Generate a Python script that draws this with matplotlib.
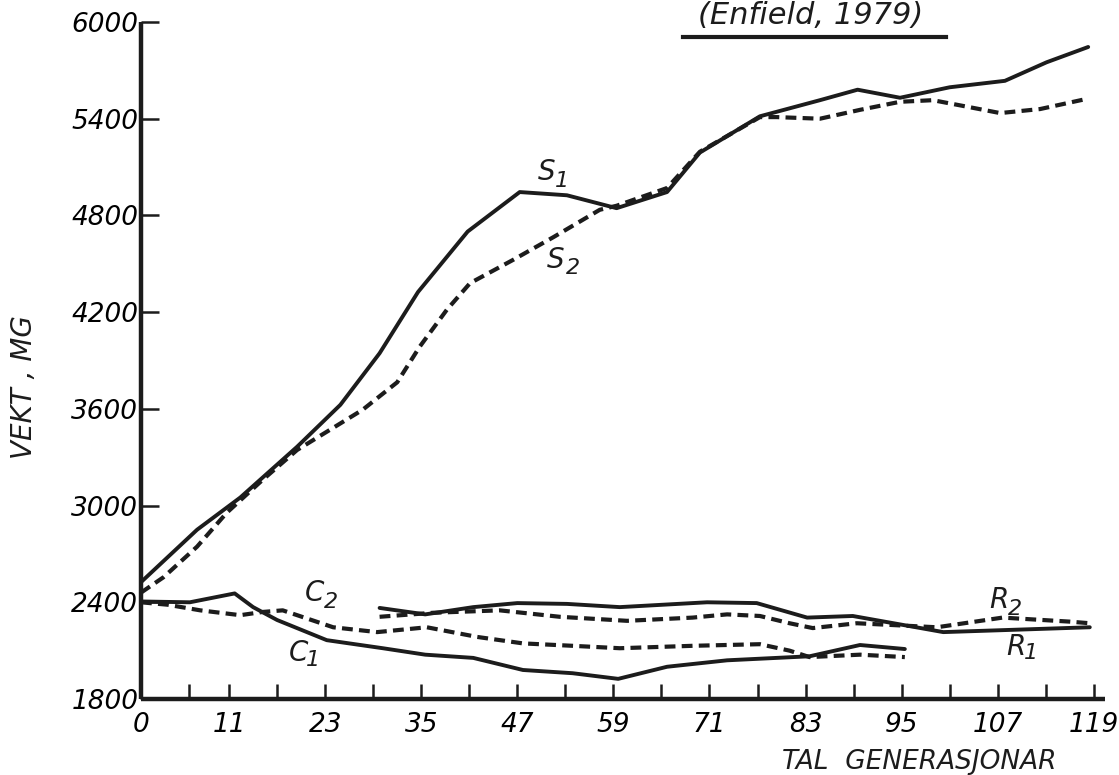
import matplotlib
matplotlib.use("Agg")
import matplotlib.pyplot as plt
from matplotlib.lines import Line2D

# generation / weight (mg)
s1_gen = [0, 7, 12.4, 19.5, 24.9, 29.8, 34.6, 40.8, 47.3, 53.2, 59.4, 65.7, 69.8,
          77.3, 84.8, 89.5, 94.8, 101.0, 107.9, 113.1, 118.3]
s1_mg = [2525, 2850, 3050, 3365, 3625, 3945, 4325, 4700, 4945, 4925, 4845, 4945, 5190,
         5415, 5515, 5580, 5530, 5595, 5635, 5750, 5845]

s2_gen = [0, 2.8, 7.0, 10.7, 15.2, 19.5, 23.6, 27.7, 32.0, 34.8, 38.2, 41.1, 46.5,
          51.5, 57.3, 59.4, 65.7, 69.8, 77.3, 79.4, 84.8, 89.8, 94.8, 98.9, 102.6,
          107.3, 112.3, 118.3]
s2_mg = [2460, 2555, 2745, 2955, 3160, 3345, 3470, 3595, 3765, 3985, 4215, 4380, 4525,
         4665, 4835, 4860, 4970, 5195, 5410, 5410, 5400, 5455, 5505, 5515, 5480,
         5435, 5460, 5525]

c1_gen = [0, 6.1, 11.7, 14.0, 17.0, 23.2, 30.2, 35.5, 41.5, 47.7, 53.9, 59.6, 65.7,
          73.2, 83.5, 89.8, 95.4]
c1_mg = [2405, 2400, 2455, 2370, 2290, 2165, 2115, 2075, 2055, 1980, 1960, 1925, 2000,
         2040, 2065, 2135, 2110]

c2_gen = [0, 3.3, 7.4, 12.4, 15.2, 17.7, 24.0, 29.5, 35.7, 42.0, 47.7, 53.9, 59.8,
          68.9, 77.3, 81.0, 83.5, 89.8, 95.4]
c2_mg = [2400, 2385, 2350, 2320, 2340, 2350, 2245, 2215, 2245, 2185, 2145, 2130, 2115,
         2130, 2140, 2100, 2060, 2075, 2060]

r1_gen = [29.8, 35.5, 41.5, 47.0, 53.2, 59.8, 70.7, 76.9, 83.2, 88.9, 100.2, 118.5]
r1_mg = [2365, 2325, 2370, 2395, 2390, 2370, 2400, 2395, 2305, 2315, 2215, 2245]

r2_gen = [29.8, 36.5, 44.8, 52.3, 60.7, 68.9, 73.2, 77.3, 81.0, 83.9, 89.4, 99.4,
          107.6, 116.0, 118.5]
r2_mg = [2310, 2335, 2350, 2310, 2285, 2305, 2325, 2315, 2270, 2240, 2270, 2245,
         2305, 2280, 2270]

x_major = [0, 11, 23, 35, 47, 59, 71, 83, 95, 107, 119]
x_minor = [6, 17, 29, 41, 53, 65, 77, 89, 101, 113]
y_ticks = [1800, 2400, 3000, 3600, 4200, 4800, 5400, 6000]

ink = '#1c1c1c'
solid = dict(color=ink, lw=2.8, solid_joinstyle='round', solid_capstyle='round')
dashed = dict(color=ink, lw=3.0, linestyle=(0, (2.6, 1.5)))

plt.rcParams['font.family'] = 'DejaVu Sans'
plt.rcParams['font.style'] = 'oblique'

fig = plt.figure(figsize=(11.19, 7.75), dpi=100)
ax = fig.add_axes([141/1119, 1-699/775, 964/1119, 677/775])

ax.plot(s1_gen, s1_mg, **solid)
ax.plot(s2_gen, s2_mg, **dashed)
ax.plot(c1_gen, c1_mg, **solid)
ax.plot(c2_gen, c2_mg, **dashed)
ax.plot(r1_gen, r1_mg, **solid)
ax.plot(r2_gen, r2_mg, **dashed)

ax.set_xlim(0, 120.4)
ax.set_ylim(1800, 6000)
for side in ['top', 'right']:
    ax.spines[side].set_visible(False)
for side in ['left', 'bottom']:
    ax.spines[side].set_linewidth(3.2)
    ax.spines[side].set_color(ink)
    ax.spines[side].set_capstyle('butt')

ax.set_xticks(x_major)
ax.set_xticks(x_minor, minor=True)
ax.set_yticks(y_ticks)
ax.tick_params(axis='x', which='both', direction='in', length=11, width=1.8,
               color=ink, pad=9, labelsize=19)
ax.tick_params(axis='y', direction='in', length=13, width=1.8, color=ink,
               pad=2, labelsize=19)
for lab in ax.get_xticklabels() + ax.get_yticklabels():
    lab.set_fontstyle('oblique')

# curve labels: letter + subscript
def curve_label(x, y, letter, sub, dx, dy):
    ax.text(x, y, letter, fontsize=20, ha='center', va='center', color=ink)
    ax.annotate(sub, (x, y), xytext=(dx, dy), textcoords='offset points',
                fontsize=16, ha='center', va='center', color=ink)

curve_label(50.7, 5070, 'S', '1', 11, -6.5)
curve_label(51.8, 4525, 'S', '2', 12.5, -6)
curve_label(21.7, 2458, 'C', '2', 11.5, -6.5)
curve_label(19.7, 2085, 'C', '1', 10.5, -5)
curve_label(107.1, 2414, 'R', '2', 12, -6.5)
curve_label(109.3, 2123, 'R', '1', 11, -4.5)

fig.text(24/1119, 1-387/775, 'VEKT , MG', rotation=90, fontsize=20,
         ha='center', va='center', color=ink)
fig.text(919/1119, 1-762/775, 'TAL  GENERASJONAR', fontsize=19,
         ha='center', va='center', color=ink)
fig.text(811/1119, 1-15/775, '(Enfield, 1979)', fontsize=22,
         ha='center', va='center', color=ink)
fig.add_artist(Line2D([683/1119, 946/1119], [1-37/775, 1-37/775],
                      transform=fig.transFigure, color=ink, lw=3))

fig.savefig('out.png', dpi=100, facecolor='white')
